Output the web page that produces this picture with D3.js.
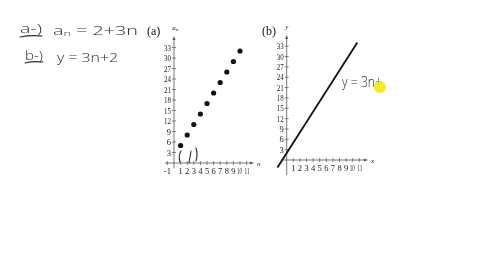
<!DOCTYPE html>
<html><head><meta charset="utf-8">
<script src="https://cdn.jsdelivr.net/npm/d3@7"></script>
<style>body{margin:0;background:#fff}svg{display:block}</style>
</head><body>
<svg id="c" width="480" height="270">
<defs><filter id="gray" x="0" y="0" width="100%" height="100%" filterUnits="userSpaceOnUse"><feColorMatrix type="saturate" values="0"/></filter></defs>
</svg>
<script>
// data
const nValues = [1,2,3,4,5,6,7,8,9,10];
const anValues = [5,8,11,14,17,20,23,26,29,32];
const xTicks = [1,2,3,4,5,6,7,8,9,10,11];
const yTicks = [3,6,9,12,15,18,21,24,27,30,33];
const lineX = [-1.4, 10.7];
const lineY = [-2.2, 34.1];

const root = d3.select("#c");
const svg = root.append("g").attr("filter", "url(#gray)");
svg.append("rect").attr("width", 480).attr("height", 270).attr("fill", "#fff");
const axisCol = "#555", txtCol = "#1a1a1a";
const serif = "Liberation Serif, Times New Roman, serif";
const hand = "Open Sans, DejaVu Sans, sans-serif";

function panel(xs, ys, opts){
  const g = svg.append("g");
  const x0 = xs(0), y0 = ys(0);
  g.append("line").attr("x1", xs(opts.xmin)).attr("x2", opts.xArrow).attr("y1", y0).attr("y2", y0)
    .attr("stroke", axisCol).attr("stroke-width", 0.8);
  g.append("path").attr("d", `M${opts.xArrow+3},${y0}L${opts.xArrow-1},${y0-1.5}L${opts.xArrow-1},${y0+1.5}Z`).attr("fill", axisCol);
  g.append("line").attr("x1", x0).attr("x2", x0).attr("y1", ys(opts.ymin)).attr("y2", opts.yArrow)
    .attr("stroke", axisCol).attr("stroke-width", 0.8);
  g.append("path").attr("d", `M${x0},${opts.yArrow-3}L${x0-1.5},${opts.yArrow+1}L${x0+1.5},${opts.yArrow+1}Z`).attr("fill", axisCol);
  const xt = opts.xTicks;
  g.selectAll(".xt").data(xt).enter().append("line")
    .attr("x1", d=>xs(d)).attr("x2", d=>xs(d)).attr("y1", y0-2).attr("y2", y0+2)
    .attr("stroke", axisCol).attr("stroke-width", 0.7);
  g.selectAll(".xl").data(xt).enter().append("text")
    .attr("x", d=>xs(d) + (d===10 ? -0.5 : d===11 ? 0.5 : 0)).attr("y", y0+11).attr("text-anchor","middle")
    .attr("font-family", serif).attr("font-size", d=> d>=10 ? 8 : 8.5).attr("fill", txtCol)
    .attr("textLength", d=> d>=10 ? 5 : null).attr("lengthAdjust","spacingAndGlyphs")
    .text(d=>d);
  g.selectAll(".yt").data(yTicks).enter().append("line")
    .attr("x1", x0-2).attr("x2", x0+2).attr("y1", d=>ys(d)).attr("y2", d=>ys(d))
    .attr("stroke", axisCol).attr("stroke-width", 0.7);
  g.selectAll(".yl").data(yTicks).enter().append("text")
    .attr("x", x0-3).attr("y", d=>ys(d)+3).attr("text-anchor","end")
    .attr("font-family", serif).attr("font-size", 8.5).attr("fill", txtCol)
    .attr("textLength", d=> d>=10 ? 7 : null).attr("lengthAdjust","spacingAndGlyphs")
    .text(d=>d);
  g.append("text").attr("x", opts.xArrow+6).attr("y", y0+2.5).attr("font-family", serif)
    .attr("font-style","italic").attr("font-size", 7).attr("fill", txtCol).text(opts.xLabel);
  g.append("text").attr("x", x0).attr("y", opts.yArrow-9).attr("text-anchor","middle").attr("font-family", serif)
    .attr("font-style","italic").attr("font-size", 7).attr("fill", txtCol).text(opts.yLabel);
  g.append("text").attr("x", opts.tagX).attr("y", opts.tagY).attr("font-family", serif)
    .attr("font-size", 12).attr("fill", "#111").text(opts.tag);
  return g;
}

// Panel (a)
const xa = d3.scaleLinear().domain([0,11]).range([174, 246.6]);
const ya = d3.scaleLinear().domain([0,33]).range([163, 47.5]);
const ga = panel(xa, ya, {xmin:-1.4, xArrow:251, ymin:-1.5, yArrow:39, xTicks:[-1].concat(xTicks),
  xLabel:"n", yLabel:"a", tag:"(a)", tagX:147, tagY:35});
ga.append("text").attr("x", xa(0)+2).attr("y", 31).attr("font-family", serif).attr("font-style","italic")
  .attr("font-size", 5).attr("fill", txtCol).text("n");
ga.selectAll(".dot").data(nValues).enter().append("circle")
  .attr("cx", d=>xa(d)).attr("cy", (d,i)=>ya(anValues[i])).attr("r", 2.6).attr("fill", "#111");

// Panel (b)
const xb = d3.scaleLinear().domain([0,11]).range([286.7, 359.3]);
const yb = d3.scaleLinear().domain([0,33]).range([160, 46.2]);
const gb = panel(xb, yb, {xmin:-0.9, xArrow:365, ymin:-4.4, yArrow:38, xTicks:xTicks,
  xLabel:"x", yLabel:"y", tag:"(b)", tagX:262, tagY:35});
gb.append("line").attr("x1", xb(lineX[0])).attr("y1", yb(lineY[0])).attr("x2", xb(lineX[1])).attr("y2", yb(lineY[1]))
  .attr("stroke", "#111").attr("stroke-width", 1.8);

// Handwritten annotations
const hw = svg.append("g").attr("fill", "#2a2a2a").attr("font-family", hand).attr("font-size", 13).attr("font-weight", 300);
hw.append("text").attr("x", 20).attr("y", 33).attr("textLength", 22).attr("lengthAdjust","spacingAndGlyphs").text("a-)");
hw.append("text").attr("x", 53).attr("y", 35).attr("textLength", 85).attr("lengthAdjust","spacingAndGlyphs").text("aₙ = 2+3n");
hw.append("text").attr("x", 25).attr("y", 60).attr("textLength", 18).attr("lengthAdjust","spacingAndGlyphs").text("b-)");
hw.append("text").attr("x", 57).attr("y", 62).attr("textLength", 61).attr("lengthAdjust","spacingAndGlyphs").text("y = 3n+2");
hw.append("text").attr("x", 342).attr("y", 87).attr("font-size", 14).attr("textLength", 40).attr("lengthAdjust","spacingAndGlyphs").text("y = 3n+");
const st = svg.append("g").attr("stroke", "#2a2a2a").attr("fill", "none").attr("stroke-width", 1.1).attr("stroke-linecap","round");
st.append("path").attr("d", "M20,37 Q30,35 42,36");
st.append("path").attr("d", "M25,63 Q34,61 43,62");
st.append("path").attr("d", "M181,151 Q178,156 180,162");
st.append("path").attr("d", "M191,151 L189,163");
st.append("path").attr("d", "M196,148 Q198,154 196,161");
root.append("circle").attr("cx", 380).attr("cy", 87).attr("r", 6).attr("fill", "#f2e600").attr("opacity", 0.85);
</script>
</body></html>
